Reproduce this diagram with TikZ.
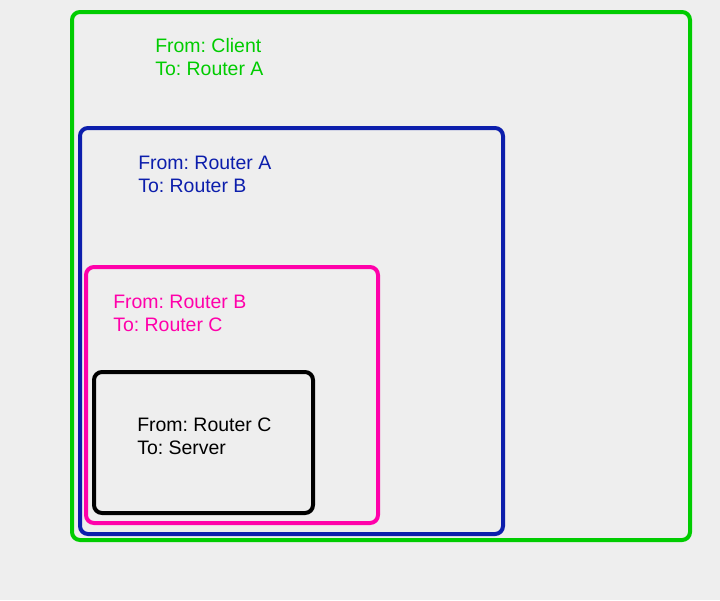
\documentclass[tikz,border=0pt]{standalone}
\usepackage{fontspec}
\setmainfont{Liberation Sans}
\frenchspacing
\definecolor{hopgreen}{RGB}{0,204,0}
\definecolor{hopblue}{RGB}{12,30,172}
\definecolor{hoppink}{RGB}{255,0,170}
\definecolor{pagebg}{RGB}{238,238,238}

\begin{document}
\begin{tikzpicture}[x=0.75pt, y=-0.75pt,
  frame/.style={draw=#1, line width=3pt, rounded corners=6pt},
  hop/.style={text=#1, anchor=north west, inner sep=0pt, align=left,
    font=\fontsize{14.6}{17}\selectfont}]
  \fill[pagebg] (0,0) rectangle (720,600);
  \useasboundingbox (0,0) rectangle (720,600);
  % nested frames, outermost first
  \draw[frame=hopgreen] (72,12) rectangle (690,540);
  \draw[frame=hopblue] (80,128) rectangle (503,534);
  \draw[frame=hoppink] (86,267) rectangle (378,523);
  \draw[frame=black] (94,372) rectangle (313,513);
  % labels
  \node[hop=hopgreen] (client) at (155,38) {From: Client\\To: Router A};
  \node[hop=hopblue] (routera) at (138,156) {From: Router A\\To: Router B};
  \node[hop=hoppink] (routerb) at (113,295) {From: Router B\\To: Router C};
  \node[hop=black] (routerc) at (137,418) {From: Router C\\To: Server};
\end{tikzpicture}
\end{document}
